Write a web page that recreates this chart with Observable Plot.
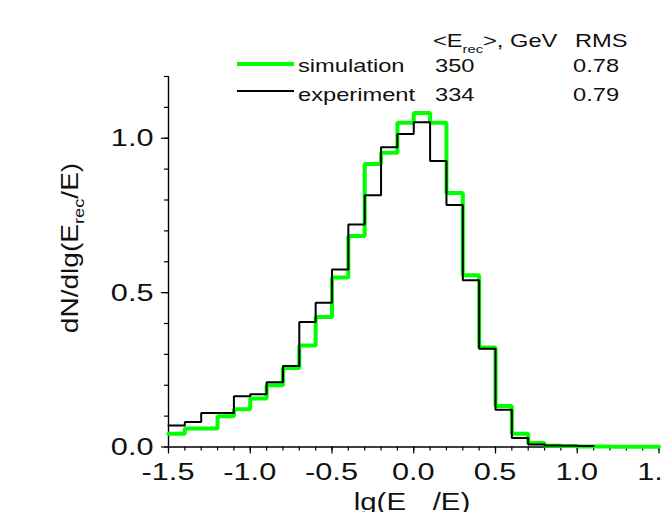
<!DOCTYPE html>
<html><head><meta charset="utf-8">
<script src="https://cdn.jsdelivr.net/npm/d3@7"></script>
<script src="https://cdn.jsdelivr.net/npm/@observablehq/plot@0.6"></script>
<style>
html,body{margin:0;padding:0;background:#fff;}
#chart{width:664px;height:512px;overflow:hidden;}
</style></head><body><div id="chart"></div>
<script>
// bin edges of lg(Erec/E)
const binEdges = [-1.5,-1.4,-1.3,-1.2,-1.1,-1.0,-0.9,-0.8,-0.7,-0.6,-0.5,-0.4,-0.3,-0.2,-0.1,0.0,
                  0.1,0.2,0.3,0.4,0.5,0.6,0.7,0.8,0.9,1.0,1.1,1.2,1.3,1.4,1.5];
// dN/dlg(Erec/E), one value per bin
const simulation = [0.043,0.060,0.060,0.100,0.122,0.157,0.200,0.256,0.329,0.421,
                    0.549,0.683,0.917,0.953,1.050,1.082,1.050,0.823,0.556,0.322,
                    0.133,0.043,0.013,0.004,0.003,0.002,0.002,0.001,0.001,0.001];
const experiment = [0.070,0.081,0.110,0.110,0.164,0.171,0.210,0.262,0.405,0.467,
                    0.575,0.721,0.815,0.971,1.014,1.052,0.926,0.784,0.540,0.318,
                    0.121,0.029,0.008,0.005,0.004,0.003];
const xMajorTicks = [-1.5,-1.0,-0.5,0.0,0.5,1.0,1.5];
const xMinorTicks = binEdges;
const yMajorTicks = [0.0,0.5,1.0];
const yMinorTicks = [0.0,0.1,0.2,0.3,0.4,0.5,0.6,0.7,0.8,0.9,1.0,1.1,1.2];
const legendSeries = ["simulation","experiment"];
const legendColors = ["#00ff00","#000000"];
const legendMean = ["350","334"];
const legendRms = ["0.78","0.79"];

function steps(values){
  const pts = values.map((v,i)=>({x: binEdges[i], y: v}));
  pts.push({x: binEdges[values.length], y: values[values.length-1]});
  return pts;
}

const FONT = "'Liberation Sans', Arial, sans-serif";
const SX = 1.28;

const plot = Plot.plot({
  width: 664, height: 512,
  marginLeft: 168, marginRight: 5.5, marginTop: 76, marginBottom: 65.5,
  style: {fontFamily: FONT, color: "#111", background: "#fff"},
  x: {domain: [-1.5, 1.5]},
  y: {domain: [0, 1.2]},
  marks: [
    Plot.axisX({ticks: xMinorTicks, tickSize: 4, tickFormat: () => "", label: null, stroke: "#000", strokeWidth: 1.2}),
    Plot.axisX({ticks: xMajorTicks, tickSize: 7, tickFormat: () => "", label: null, stroke: "#000", strokeWidth: 1.2}),
    Plot.axisY({ticks: yMinorTicks, tickSize: 4, tickFormat: () => "", label: null, stroke: "#000", strokeWidth: 1.2}),
    Plot.axisY({ticks: yMajorTicks, tickSize: 7, tickFormat: () => "", label: null, stroke: "#000", strokeWidth: 1.2}),
    Plot.ruleX([-1.5], {stroke: "#000", strokeWidth: 1.4}),
    Plot.ruleY([0], {stroke: "#000", strokeWidth: 1.4}),
    Plot.line(steps(simulation), {x: "x", y: "y", curve: "step-after", stroke: legendColors[0], strokeWidth: 4, strokeLinejoin: "miter"}),
    Plot.line(steps(experiment), {x: "x", y: "y", curve: "step-after", stroke: legendColors[1], strokeWidth: 2, strokeLinejoin: "miter"})
  ]
});
document.getElementById("chart").appendChild(plot);

const sx = plot.scale("x"), sy = plot.scale("y");
const svg = d3.select(plot);

// tick labels placed with the plot's own scales
const tl = svg.append("g").attr("font-family", FONT).attr("font-size", 24).attr("fill", "#111");
xMajorTicks.forEach(v => {
  tl.append("text").attr("text-anchor", "middle")
    .attr("transform", `translate(${sx.apply(v)},480) scale(${SX},1)`).text(v.toFixed(1));
});
yMajorTicks.forEach(v => {
  tl.append("text").attr("text-anchor", "end")
    .attr("transform", `translate(153.5,${sy.apply(v) + 8.6}) scale(${SX},1)`).text(v.toFixed(1));
});

// axis titles
const xt = svg.append("text").attr("font-family", FONT).attr("font-size", 23).attr("fill", "#111")
  .attr("text-anchor", "middle").attr("transform", `translate(412,510) scale(${SX},1)`);
xt.append("tspan").text("lg(E");
xt.append("tspan").attr("font-size", 15).attr("dy", 12).text("rec");
xt.append("tspan").attr("dy", -12).text("/E)");

const yt = svg.append("text").attr("font-family", FONT).attr("font-size", 23).attr("fill", "#111")
  .attr("text-anchor", "middle").attr("transform", `translate(78,248) rotate(-90) scale(1.22,1)`);
yt.append("tspan").text("dN/dlg(E");
yt.append("tspan").attr("font-size", 15).attr("dy", 6).text("rec");
yt.append("tspan").attr("dy", -6).text("/E)");

// legend table
const lg = svg.append("g").attr("font-family", FONT).attr("font-size", 18.5).attr("fill", "#111").attr("text-anchor", "start");
const hdr = lg.append("text").attr("text-anchor", "start").attr("transform", `translate(433,47) scale(${SX},1)`);
hdr.append("tspan").text("<E");
hdr.append("tspan").attr("font-size", 11.5).attr("dy", 6).text("rec");
hdr.append("tspan").attr("dy", -6).text(">, GeV");
lg.append("text").attr("text-anchor", "start").attr("transform", `translate(575,47) scale(${SX},1)`).text("RMS");
const rowY = [72.3, 100.5];
const lineY = [64, 91];
const lineW = [4, 2];
legendSeries.forEach((name, i) => {
  lg.append("line").attr("x1", 237).attr("x2", 294).attr("y1", lineY[i]).attr("y2", lineY[i])
    .attr("stroke", legendColors[i]).attr("stroke-width", lineW[i]);
  lg.append("text").attr("text-anchor", "start").attr("transform", `translate(298,${rowY[i]}) scale(${SX},1)`).text(name);
  lg.append("text").attr("text-anchor", "start").attr("transform", `translate(435,${rowY[i]}) scale(${SX},1)`).text(legendMean[i]);
  lg.append("text").attr("text-anchor", "start").attr("transform", `translate(573,${rowY[i]}) scale(${SX},1)`).text(legendRms[i]);
});
</script>
</body></html>
